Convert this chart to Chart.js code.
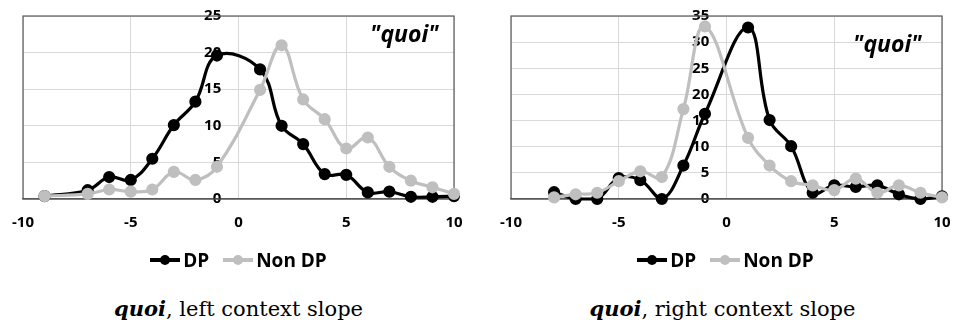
<!DOCTYPE html>
<html>
<head>
<meta charset="utf-8">
<script src="https://cdn.jsdelivr.net/npm/chart.js@4"></script>
<style>
    body { margin: 0; background: #fff; width: 954px; height: 324px; position: relative; overflow: hidden; }
    .panel { position: absolute; top: 0; width: 477px; height: 249px; }
    .tag { position: absolute; font: italic bold 23px "Open Sans", sans-serif; color: #000; }
    .legend { position: absolute; top: 242px; width: 477px; text-align: center; font: bold 19px "Open Sans", sans-serif; }
    .legend .item { display: inline-flex; align-items: center; margin: 0 7px; }
    .legend .mark { position: relative; width: 30px; height: 4px; margin-right: 3px; }
    .legend .mark i { position: absolute; left: 10px; top: -3px; width: 10px; height: 10px; border-radius: 50%; }
    .caption { position: absolute; top: 296px; width: 477px; text-align: center; font: 21px "DejaVu Serif", serif; }
</style>
</head>
<body>
<div class="panel" style="left:0"><canvas id="leftChart"></canvas></div>
<div class="panel" style="left:477px"><canvas id="rightChart"></canvas></div>
<div class="tag" style="left:370px; top:17px">"quoi"</div>
<div class="tag" style="left:853px; top:27px">"quoi"</div>
<div class="legend" id="leftLegend" style="left:0"></div>
<div class="legend" id="rightLegend" style="left:487px"></div>
<div class="caption" style="left:0"><b><i>quoi</i></b>, left context slope</div>
<div class="caption" style="left:484px"><b><i>quoi</i></b>, right context slope</div>
<script>
// series names and colours
const seriesNames = ['DP', 'Non DP'];
const seriesColors = ['#000000', '#bfbfbf'];

// left context slope (no value at 0)
const leftX = [-9, -7, -6, -5, -4, -3, -2, -1, 1, 2, 3, 4, 5, 6, 7, 8, 9, 10];
const leftDP = [0.4, 1.2, 3.0, 2.6, 5.5, 10.1, 13.3, 19.6, 17.7, 10.0, 7.5, 3.4, 3.3, 0.9, 1.0, 0.3, 0.3, 0.4];
const leftNonDP = [0.4, 0.7, 1.3, 1.0, 1.3, 3.7, 2.6, 4.4, 14.9, 21.0, 13.6, 10.9, 6.9, 8.4, 4.4, 2.5, 1.6, 0.7];

// right context slope
const rightX = [-8, -7, -6, -5, -4, -3, -2, -1, 1, 2, 3, 4, 5, 6, 7, 8, 9, 10];
const rightDP = [1.3, 0, 0, 4.0, 3.6, 0, 6.4, 16.3, 32.8, 15.1, 10.1, 1.2, 2.6, 2.3, 2.6, 0.9, 0, 0.5];
const rightNonDP = [0.3, 0.9, 1.2, 3.4, 5.3, 4.2, 17.2, 33.0, 11.7, 6.4, 3.4, 2.6, 1.7, 3.9, 1.2, 2.6, 1.2, 0.3];

// axis ranges
const xMin = -10, xMax = 10, xStep = 5;
const leftYMax = 25, rightYMax = 35, yStep = 5;

const tickFont = { family: 'Open Sans', weight: 'bold', size: 15 };

// frame round the plot area
const framePlugin = {
    id: 'frame',
    beforeDatasetsDraw(chart) {
        const a = chart.chartArea;
        const ctx = chart.ctx;
        ctx.save();
        ctx.strokeStyle = '#595959';
        ctx.lineWidth = 1.2;
        ctx.strokeRect(a.left, a.top, a.right - a.left, a.bottom - a.top);
        ctx.restore();
    }
};

// let the layout padding alone decide the plot area
function noScalePadding(scale) {
    scale.paddingLeft = 0;
    scale.paddingRight = 0;
    scale.paddingTop = 0;
    scale.paddingBottom = 0;
}

function toPoints(xs, ys) {
    return xs.map((x, i) => ({ x, y: ys[i] }));
}

function makeDataset(i, xs, ys) {
    return {
        label: seriesNames[i],
        data: toPoints(xs, ys),
        borderColor: seriesColors[i],
        backgroundColor: seriesColors[i],
        borderWidth: 3.2,
        pointRadius: 4.5,
        pointHoverRadius: 4.5,
        tension: 0.4,
        clip: false,
        order: i === 0 ? 1 : 0
    };
}

function createChart(id, xs, dp, nonDp, yMax, padLeft, padRight) {
    const ctx = document.getElementById(id).getContext('2d');
    return new Chart(ctx, {
        type: 'line',
        data: { datasets: [makeDataset(0, xs, dp), makeDataset(1, xs, nonDp)] },
        options: {
            responsive: true,
            maintainAspectRatio: false,
            animation: false,
            layout: { padding: { left: padLeft, right: padRight, top: 16, bottom: 2 } },
            plugins: { legend: { display: false }, tooltip: { enabled: false } },
            scales: {
                x: {
                    type: 'linear',
                    min: xMin,
                    max: xMax,
                    afterFit: noScalePadding,
                    ticks: { stepSize: xStep, color: '#000', font: tickFont, padding: 15 },
                    grid: { color: '#d9d9d9', drawTicks: false },
                    border: { color: '#595959', width: 1.2 }
                },
                y: {
                    // labels sit just left of the x = 0 line
                    position: { x: -0.8 },
                    min: 0,
                    max: yMax,
                    afterFit: noScalePadding,
                    ticks: { stepSize: yStep, color: '#000', font: tickFont },
                    grid: { color: '#d9d9d9', drawTicks: false },
                    border: { display: false }
                }
            }
        },
        plugins: [framePlugin]
    });
}

// legend: line with a dot, then the name
function buildLegend(id) {
    const box = document.getElementById(id);
    seriesNames.forEach((name, i) => {
        const item = document.createElement('span');
        item.className = 'item';
        item.innerHTML = `<span class="mark" style="background:${seriesColors[i]}"><i style="background:${seriesColors[i]}"></i></span>${name}`;
        box.appendChild(item);
    });
}

createChart('leftChart', leftX, leftDP, leftNonDP, leftYMax, 23, 23);
createChart('rightChart', rightX, rightDP, rightNonDP, rightYMax, 34, 12);
buildLegend('leftLegend');
buildLegend('rightLegend');
</script>
</body>
</html>
